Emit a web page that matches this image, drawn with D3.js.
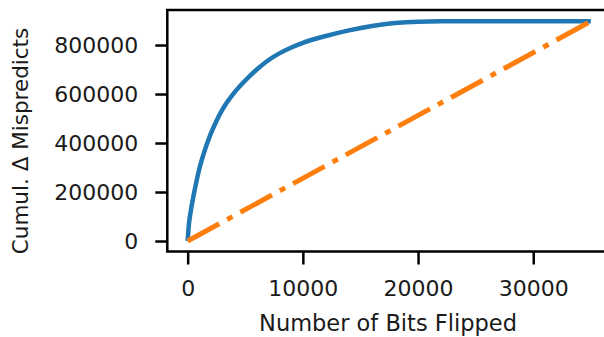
<!DOCTYPE html>
<html>
<head>
<meta charset="utf-8">
<script src="https://cdn.jsdelivr.net/npm/d3@7"></script>
<style>
  body { margin: 0; background: #fff; }
  text { font-family: "DejaVu Sans", sans-serif; fill: #1a1a1a; }
</style>
</head>
<body>
<script>
// bits flipped (x) and cumulative delta mispredicts (y)
const bitsFlipped = [0, 100, 250, 500, 750, 1000, 1500, 2000, 2500, 3000, 3500, 4000, 5000, 6000,
    7000, 8000, 9000, 10000, 12000, 14000, 16000, 18000, 20000, 22000, 25000, 30000, 35000];
const sortedMispredicts = [0, 64000, 116000, 182000, 240000, 292000, 372000, 437000, 490000, 535000,
    572000, 603000, 655000, 700000, 738000, 767000, 790000, 809000, 837000, 860000, 878000, 890000,
    895500, 897000, 897000, 897000, 897000];
const randomBits = [0, 35000];
const randomMispredicts = [0, 897000];
const xTicks = [0, 10000, 20000, 30000];
const yTicks = [0, 200000, 400000, 600000, 800000];

const width = 604, height = 337;
const svg = d3.select('body').append('svg')
    .attr('width', width)
    .attr('height', height);

const x = d3.scaleLinear().domain([-1750, 36750]).range([167.5, 611]);
const y = d3.scaleLinear().domain([-44900, 943000]).range([252, 10]);

const sorted = bitsFlipped.map((b, i) => ({ x: b, y: sortedMispredicts[i] }));
const random = randomBits.map((b, i) => ({ x: b, y: randomMispredicts[i] }));

svg.append('path')
    .datum(sorted)
    .attr('fill', 'none')
    .attr('stroke', '#1f77b4')
    .attr('stroke-width', 4.5)
    .attr('d', d3.line().curve(d3.curveMonotoneX).x(d => x(d.x)).y(d => y(d.y)));

svg.append('path')
    .datum(random)
    .attr('fill', 'none')
    .attr('stroke', '#ff7f0e')
    .attr('stroke-width', 5)
    .attr('stroke-dasharray', '36,9,6,9')
    .attr('d', d3.line().x(d => x(d.x)).y(d => y(d.y)));

// frame
svg.append('rect')
    .attr('x', 167.3).attr('y', 10)
    .attr('width', 640).attr('height', 241.5)
    .attr('fill', 'none')
    .attr('stroke', '#000')
    .attr('stroke-width', 2.5);

const fmt = d3.format('d');
const yAxis = d3.axisLeft(y).tickValues(yTicks).tickFormat(fmt).tickSize(12).tickPadding(17);
const yg = svg.append('g').attr('transform', 'translate(167.3,0)').call(yAxis);
const xAxis = d3.axisBottom(x).tickValues(xTicks).tickFormat(fmt).tickSize(13).tickPadding(16);
const xg = svg.append('g').attr('transform', 'translate(0,251.5)').call(xAxis);

[yg, xg].forEach(g => {
    g.select('.domain').remove();
    g.selectAll('.tick line').attr('stroke', '#000').attr('stroke-width', 2.5);
    g.selectAll('.tick text').style('font-size', '22px').style('font-family', '"DejaVu Sans", sans-serif').attr('fill', '#1a1a1a');
});

svg.append('text')
    .attr('x', 388).attr('y', 331)
    .attr('text-anchor', 'middle')
    .style('font-size', '22.5px')
    .text('Number of Bits Flipped');

svg.append('text')
    .attr('transform', 'translate(28,141) rotate(-90)')
    .attr('text-anchor', 'middle')
    .style('font-size', '21.5px')
    .text('Cumul. Δ Mispredicts');
</script>
</body>
</html>
